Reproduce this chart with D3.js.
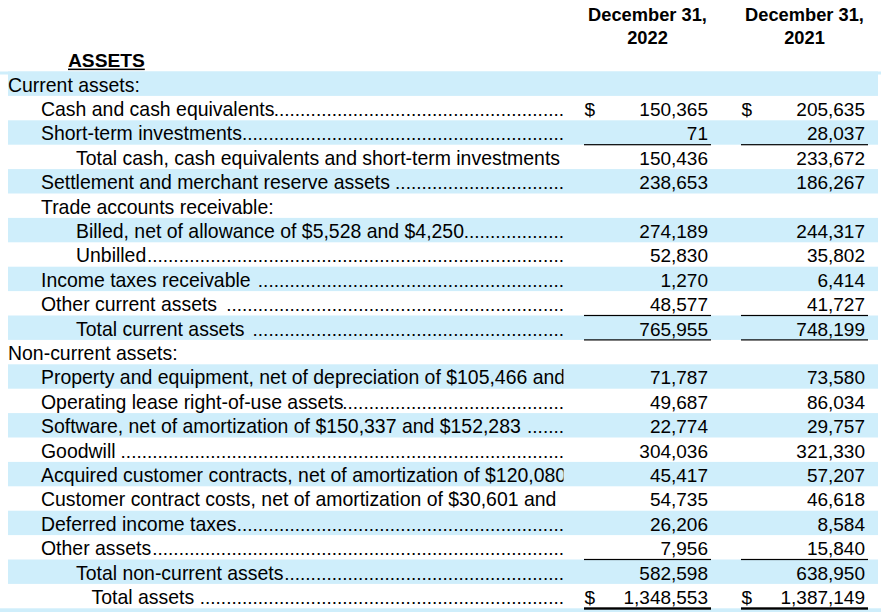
<!DOCTYPE html>
<html>
<head>
<meta charset="utf-8">
<script src="https://cdn.jsdelivr.net/npm/d3@7"></script>
<style>
  html, body { margin: 0; padding: 0; background: #fff; }
  svg { display: block; }
  text { font-family: "Liberation Sans", Arial, sans-serif; fill: #000; white-space: pre; }
</style>
</head>
<body>
<svg id="chart" width="881" height="612"></svg>
<script>
// ---- data ----
const years = ["2022", "2021"];
const headerTitle = "December 31,";
const sectionTitle = "ASSETS";
const labels = [
  "Current assets:",
  "Cash and cash equivalents",
  "Short-term investments",
  "Total cash, cash equivalents and short-term investments",
  "Settlement and merchant reserve assets ",
  "Trade accounts receivable:",
  "Billed, net of allowance of $5,528 and $4,250",
  "Unbilled",
  "Income taxes receivable ",
  "Other current assets ",
  "Total current assets ",
  "Non-current assets:",
  "Property and equipment, net of depreciation of $105,466 and",
  "Operating lease right-of-use assets",
  "Software, net of amortization of $150,337 and $152,283 ",
  "Goodwill ",
  "Acquired customer contracts, net of amortization of $120,080",
  "Customer contract costs, net of amortization of $30,601 and",
  "Deferred income taxes",
  "Other assets",
  "Total non-current assets",
  "Total assets "
];
const levels = [0,1,1,2,1,1,2,2,1,1,2,0,1,1,1,1,1,1,1,1,2,3];
const values2022 = [null,150365,71,150436,238653,null,274189,52830,1270,48577,765955,null,71787,49687,22774,304036,45417,54735,26206,7956,582598,1348553];
const values2021 = [null,205635,28037,233672,186267,null,244317,35802,6414,41727,748199,null,73580,86034,29757,321330,57207,46618,8584,15840,638950,1387149];
const leaders = [0,1,1,0,1,0,1,1,1,1,1,0,0,1,1,1,0,0,1,1,1,1];
const dollarRows = [1,21];
const singleRuleRows = [2,9,10,19];
const doubleRuleRows = [21];

// ---- layout ----
const svg = d3.select("#chart");
const W = 881;
const fontSize = 19;
const labelSize = 19.45;
const nRows = labels.length + 1;
const y = d3.scaleBand().domain(d3.range(nRows)).range([71.5, 71.5 + nRows * 24.4]);
const x = d3.scaleBand().domain(years).range([584, 868]).paddingInner(0.191);
const indent = d3.scaleOrdinal().domain([0,1,2,3]).range([8, 41, 76, 91.5]);
const leaderEnd = 564;
const fmt = d3.format(",");
const series = { "2022": values2022, "2021": values2021 };

// stripes
const stripeRows = d3.range(nRows).filter(i => i % 2 === 0);
svg.append("g").selectAll("rect").data(stripeRows).join("rect")
  .attr("x", i => i === nRows - 1 ? 0 : 8)
  .attr("y", i => y(i))
  .attr("width", i => i === nRows - 1 ? W : 870)
  .attr("height", y.bandwidth())
  .attr("fill", "#cfeefb");
svg.append("rect").attr("x", 0).attr("y", y(0)).attr("width", W).attr("height", 3).attr("fill", "#cfeefb");

// headers
const hdr = svg.append("g");
years.forEach(yr => {
  const cx = x(yr) + x.bandwidth() / 2;
  hdr.append("text").attr("x", cx).attr("y", 21).attr("text-anchor", "middle")
    .style("font-weight", "bold").style("font-size", "18.3px").text(headerTitle);
  hdr.append("text").attr("x", cx).attr("y", 43.5).attr("text-anchor", "middle")
    .style("font-weight", "bold").style("font-size", "18.3px").text(yr);
});
const assetsText = hdr.append("text").attr("x", 68).attr("y", 67)
  .style("font-weight", "bold").style("font-size", "19.2px").text(sectionTitle);
const aw = assetsText.node().getComputedTextLength();
hdr.append("rect").attr("x", 68).attr("y", 68.6).attr("width", aw).attr("height", 1.5).attr("fill", "#000");

// labels with clip
svg.append("defs").append("clipPath").attr("id", "labclip")
  .append("rect").attr("x", 0).attr("y", 0).attr("width", 563.5).attr("height", 612);
const lab = svg.append("g").attr("clip-path", "url(#labclip)");
const rowsData = labels.map((l, i) => ({ i, label: l, level: levels[i], leader: leaders[i] }));
const lg = lab.selectAll("g.row").data(rowsData).join("g").attr("class", "row");
lg.append("text")
  .attr("x", d => indent(d.level))
  .attr("y", d => y(d.i) + 20)
  .style("font-size", labelSize + "px")
  .text(d => d.label);

// dot leaders
const probe = svg.append("text").style("font-size", fontSize + "px").text("..........");
const dotW = probe.node().getComputedTextLength() / 10;
probe.remove();
lg.each(function(d) {
  if (!d.leader) return;
  const g = d3.select(this);
  const tEnd = indent(d.level) + g.select("text").node().getComputedTextLength();
  const n = Math.max(0, Math.floor((leaderEnd - tEnd) / dotW + 0.3));
  g.append("text").attr("x", leaderEnd).attr("y", y(d.i) + 20)
    .attr("text-anchor", "end").style("font-size", fontSize + "px")
    .text(".".repeat(n));
});

// values
const vals = svg.append("g");
years.forEach(yr => {
  const col = vals.append("g");
  col.selectAll("text.v").data(series[yr].map((v, i) => ({ v, i })).filter(d => d.v !== null))
    .join("text").attr("class", "v")
    .attr("x", x(yr) + x.bandwidth() - 3)
    .attr("y", d => y(d.i) + 20)
    .attr("text-anchor", "end")
    .style("font-size", fontSize + "px")
    .text(d => fmt(d.v));
  col.selectAll("text.d").data(dollarRows).join("text").attr("class", "d")
    .attr("x", x(yr) + 0.5)
    .attr("y", i => y(i) + 20)
    .style("font-size", fontSize + "px")
    .text("$");
  col.selectAll("rect.s").data(singleRuleRows).join("rect").attr("class", "s")
    .attr("x", x(yr)).attr("y", i => y(i) + y.bandwidth() - 0.6)
    .attr("width", x.bandwidth()).attr("height", 1.2).attr("fill", "#000");
  col.selectAll("rect.dd").data(doubleRuleRows).join("rect").attr("class", "dd")
    .attr("x", x(yr)).attr("y", i => y(i) + y.bandwidth() - 1)
    .attr("width", x.bandwidth()).attr("height", 2.4).attr("fill", "#000");
});
</script>
</body>
</html>
